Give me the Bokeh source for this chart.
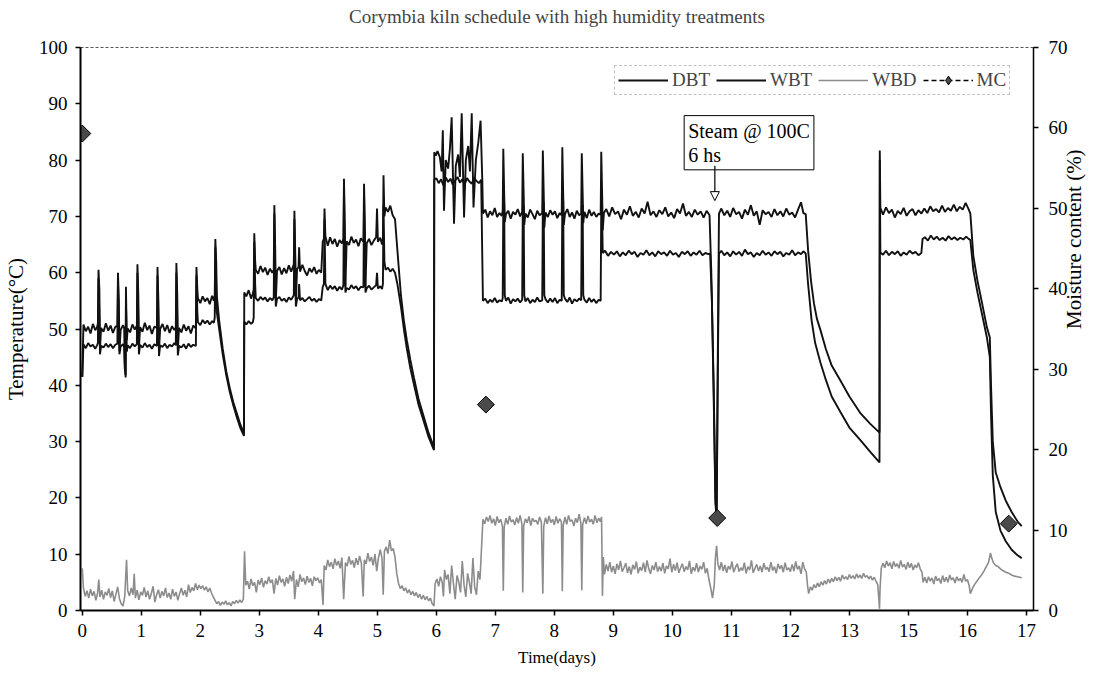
from math import pi

from bokeh.embed import file_html
from bokeh.models import (Arrow, ColumnDataSource, FixedTicker, Label, Legend,
                          LegendItem, LinearAxis, NormalHead, Range1d)
from bokeh.plotting import figure
from bokeh.resources import INLINE

TITLE = "Corymbia kiln schedule with high humidity treatments"
DAY_TICKS = list(range(17))
DAY_TICK_LABELS = ["0", "1", "2", "3", "4", "5", "6", "7", "8", "9", "10",
                   "11", "12", "13", "15", "16", "17"]
TEMP_TICKS = list(range(0, 101, 10))
MC_TICKS = list(range(0, 71, 10))

# Dry bulb temperature (day, degC)
DBT = [
    (0.00, 41.5), (0.02, 50.8), (0.06, 49.6), (0.10, 50.4), (0.14, 49.2), (0.18, 50.9), (0.22, 49.8), (0.25, 50.3),
    (0.265, 51.0), (0.275, 60.5), (0.29, 57.0), (0.30, 46.5), (0.32, 50.2),
    (0.36, 49.5), (0.40, 51.0), (0.44, 49.7), (0.48, 50.6), (0.52, 49.3), (0.56, 50.4),
    (0.595, 50.5), (0.605, 60.0), (0.62, 55.0), (0.63, 46.0), (0.65, 49.8),
    (0.69, 50.7), (0.71, 50.2), (0.72, 44.0), (0.735, 41.4), (0.74, 57.5), (0.755, 48.0), (0.77, 50.1),
    (0.81, 49.4), (0.85, 50.8), (0.89, 49.9),
    (0.925, 50.6), (0.935, 61.5), (0.95, 56.0), (0.96, 46.5), (0.98, 50.3),
    (1.02, 49.5), (1.06, 51.1), (1.10, 49.8), (1.14, 50.6), (1.18, 49.1), (1.22, 50.4),
    (1.265, 50.2), (1.275, 61.0), (1.29, 55.0), (1.30, 46.2), (1.32, 50.0),
    (1.36, 50.9), (1.40, 49.6), (1.44, 50.7), (1.48, 49.3), (1.52, 50.5), (1.56, 49.8),
    (1.585, 50.3), (1.595, 61.7), (1.61, 56.0), (1.62, 46.4), (1.64, 50.2),
    (1.68, 49.4), (1.72, 50.8), (1.76, 49.7), (1.80, 50.5), (1.84, 49.2), (1.88, 50.6),
    (1.925, 50.1), (1.935, 61.0), (1.95, 57.0), (1.96, 55.5),
    (2.00, 54.6), (2.04, 55.8), (2.08, 54.9), (2.12, 55.5), (2.16, 54.4), (2.20, 55.9), (2.23, 55.0),
    (2.245, 56.0), (2.255, 66.0), (2.27, 62.0), (2.28, 56.0),
    (2.32, 51.5), (2.38, 46.5), (2.44, 42.5), (2.50, 39.5), (2.56, 37.0), (2.62, 35.0), (2.68, 33.0), (2.74, 31.4),
    (2.745, 56.5), (2.78, 55.8), (2.82, 56.9), (2.86, 55.4), (2.89, 56.3),
    (2.905, 57.0), (2.915, 67.0), (2.93, 62.0), (2.94, 60.5),
    (2.98, 59.8), (3.02, 61.2), (3.06, 60.1), (3.10, 60.9), (3.14, 59.6), (3.18, 60.7), (3.22, 60.0),
    (3.245, 60.5), (3.255, 72.0), (3.27, 64.0), (3.28, 55.0), (3.30, 60.3),
    (3.34, 61.0), (3.38, 59.7), (3.42, 60.8), (3.46, 59.9), (3.50, 61.3), (3.54, 60.2),
    (3.585, 61.5), (3.595, 71.0), (3.61, 63.0), (3.62, 55.0), (3.64, 60.6), (3.665, 61.0), (3.675, 64.5), (3.69, 60.2),
    (3.73, 61.4), (3.77, 60.3), (3.81, 59.5), (3.85, 60.8), (3.89, 60.1), (3.93, 61.0), (3.97, 59.8), (4.01, 60.5), (4.05, 60.0),
    (4.075, 65.5), (4.095, 66.0), (4.105, 71.4), (4.12, 66.5),
    (4.16, 64.8), (4.20, 66.3), (4.24, 65.1), (4.28, 66.0), (4.32, 64.6), (4.36, 65.8), (4.40, 65.2),
    (4.425, 66.0), (4.435, 76.7), (4.45, 68.0), (4.46, 57.5), (4.48, 65.6),
    (4.52, 64.9), (4.56, 66.4), (4.60, 65.3), (4.64, 65.9), (4.68, 64.7), (4.72, 66.1),
    (4.765, 65.5), (4.775, 75.8), (4.79, 68.0), (4.80, 57.5), (4.82, 65.2),
    (4.86, 66.0), (4.90, 64.9), (4.94, 65.7), (4.98, 66.3), (4.995, 71.4), (5.01, 65.5), (5.05, 66.2), (5.08, 65.0),
    (5.095, 66.0), (5.105, 77.3), (5.12, 70.0), (5.14, 71.6),
    (5.18, 70.8), (5.22, 71.9), (5.26, 70.2), (5.30, 69.5),
    (5.34, 64.0), (5.40, 56.0), (5.45, 51.5), (5.50, 48.0), (5.56, 44.5), (5.62, 41.4), (5.70, 37.5), (5.79, 34.3), (5.87, 31.5), (5.96, 29.0),
    (5.965, 81.4), (5.99, 80.8), (6.02, 81.6),
    (6.06, 80.5), (6.09, 78.0), (6.11, 85.3), (6.13, 71.0), (6.16, 80.0), (6.20, 78.5), (6.23, 82.0), (6.26, 87.6),
    (6.30, 68.7), (6.33, 79.0), (6.37, 81.0), (6.40, 77.0), (6.43, 88.3), (6.47, 69.8), (6.50, 80.0), (6.54, 82.5),
    (6.57, 78.0), (6.60, 88.3), (6.63, 71.6), (6.67, 80.0), (6.71, 83.0), (6.75, 87.0),
    (6.78, 76.0), (6.79, 70.5),
    (6.83, 71.2), (6.87, 69.8), (6.91, 70.9), (6.95, 70.2), (6.99, 71.5), (7.03, 69.9), (7.07, 70.6), (7.11, 70.1),
    (7.125, 71.0), (7.135, 82.0), (7.15, 74.0), (7.16, 69.0), (7.18, 70.4),
    (7.22, 71.0), (7.26, 69.6), (7.30, 70.8), (7.34, 70.3), (7.38, 71.3), (7.42, 70.0),
    (7.455, 70.8), (7.465, 81.2), (7.48, 74.0), (7.49, 68.5), (7.51, 70.5),
    (7.55, 69.8), (7.59, 71.2), (7.63, 70.4), (7.67, 69.5), (7.71, 71.0), (7.75, 70.2),
    (7.795, 70.6), (7.805, 81.7), (7.82, 74.0), (7.83, 68.0), (7.85, 70.7),
    (7.89, 69.9), (7.93, 71.1), (7.97, 70.3), (8.01, 70.9), (8.05, 69.7), (8.09, 70.6),
    (8.125, 70.2), (8.135, 82.3), (8.15, 74.0), (8.16, 68.5), (8.18, 70.4),
    (8.22, 71.3), (8.26, 69.9), (8.30, 70.7), (8.34, 69.6), (8.38, 71.0), (8.42, 70.2),
    (8.455, 70.5), (8.465, 81.2), (8.48, 74.0), (8.49, 68.8), (8.51, 70.8),
    (8.55, 69.7), (8.59, 71.2), (8.63, 70.1), (8.67, 70.8), (8.71, 69.9), (8.75, 70.5),
    (8.785, 70.3), (8.795, 81.5), (8.81, 74.0), (8.82, 67.5), (8.84, 70.6),
    (8.88, 71.3), (8.93, 70.0), (8.98, 71.6), (9.03, 70.4), (9.08, 70.9), (9.13, 69.5), (9.18, 71.2), (9.23, 70.3),
    (9.28, 71.8), (9.33, 70.1), (9.38, 70.8), (9.43, 69.8), (9.48, 71.4), (9.53, 70.5), (9.58, 72.6), (9.63, 70.2),
    (9.68, 70.9), (9.73, 69.9), (9.78, 71.1), (9.83, 70.4), (9.88, 71.6), (9.93, 70.0), (9.98, 70.7), (10.03, 69.7),
    (10.08, 71.3), (10.13, 70.5), (10.18, 72.3), (10.23, 70.1), (10.28, 70.8), (10.33, 69.9), (10.38, 71.2), (10.43, 70.3),
    (10.48, 70.9), (10.53, 69.8), (10.58, 71.0), (10.63, 70.2),
    (10.66, 60.0), (10.70, 40.0), (10.73, 20.0), (10.75, 16.5), (10.77, 45.0), (10.79, 70.5),
    (10.83, 71.4), (10.88, 70.2), (10.93, 71.0), (10.98, 69.9), (11.03, 71.5), (11.08, 70.4), (11.13, 70.8), (11.18, 69.6),
    (11.23, 71.2), (11.28, 70.3), (11.33, 72.0), (11.38, 70.1), (11.43, 70.9), (11.48, 68.5), (11.53, 71.1), (11.58, 70.4),
    (11.63, 70.8), (11.68, 69.9), (11.73, 71.3), (11.78, 70.2), (11.83, 70.9), (11.88, 70.0), (11.93, 71.4), (11.98, 70.3),
    (12.03, 70.7), (12.08, 69.8), (12.13, 71.2), (12.18, 72.5), (12.22, 70.6), (12.26, 70.4),
    (12.30, 64.0), (12.35, 58.5), (12.40, 54.5), (12.45, 51.8), (12.51, 49.8), (12.60, 46.5), (12.70, 43.5),
    (12.85, 40.8), (13.00, 38.0), (13.19, 35.0), (13.35, 33.2), (13.51, 31.6),
    (13.515, 81.7), (13.525, 71.5),
    (13.57, 70.3), (13.62, 71.6), (13.67, 70.6), (13.72, 71.2), (13.77, 69.8), (13.82, 71.0), (13.87, 70.4), (13.92, 71.5),
    (13.97, 70.1), (14.02, 70.9), (14.07, 71.3), (14.12, 70.2), (14.17, 71.1), (14.22, 70.5), (14.27, 71.4), (14.32, 70.6),
    (14.37, 71.8), (14.42, 70.9), (14.47, 71.3), (14.52, 70.7), (14.57, 71.9), (14.62, 70.8), (14.67, 71.5), (14.72, 71.0),
    (14.77, 72.1), (14.82, 70.9), (14.87, 71.7), (14.92, 71.2), (14.97, 72.4), (15.02, 71.3), (15.05, 70.5),
    (15.10, 63.0), (15.17, 58.6), (15.25, 54.5), (15.33, 50.3), (15.38, 48.5), (15.40, 40.0), (15.43, 30.0),
    (15.48, 24.5), (15.56, 21.9), (15.65, 19.5), (15.75, 17.5), (15.85, 15.8), (15.92, 15.0),
]

# Wet bulb temperature (day, degC)
WBT = [
    (0.00, 41.5), (0.02, 47.3), (0.06, 46.6), (0.10, 47.5), (0.14, 46.9), (0.18, 47.2), (0.22, 46.5), (0.25, 47.1),
    (0.265, 47.5), (0.275, 59.0), (0.29, 52.0), (0.30, 45.5), (0.32, 47.0),
    (0.36, 46.7), (0.40, 47.4), (0.44, 46.8), (0.48, 47.3), (0.52, 46.6), (0.56, 47.2),
    (0.595, 47.4), (0.605, 58.5), (0.62, 51.0), (0.63, 45.5), (0.65, 46.9),
    (0.69, 47.3), (0.71, 46.8), (0.72, 43.0), (0.735, 41.8), (0.74, 55.0), (0.755, 46.0), (0.77, 47.1),
    (0.81, 46.6), (0.85, 47.4), (0.89, 46.9),
    (0.925, 47.3), (0.935, 60.0), (0.95, 52.0), (0.96, 45.5), (0.98, 47.2),
    (1.02, 46.7), (1.06, 47.5), (1.10, 46.8), (1.14, 47.2), (1.18, 46.5), (1.22, 47.3),
    (1.265, 47.0), (1.275, 59.5), (1.29, 52.0), (1.30, 45.2), (1.32, 47.1),
    (1.36, 46.8), (1.40, 47.4), (1.44, 46.6), (1.48, 47.2), (1.52, 46.9), (1.56, 47.5),
    (1.585, 47.1), (1.595, 60.0), (1.61, 52.0), (1.62, 45.3), (1.64, 47.0),
    (1.68, 46.7), (1.72, 47.3), (1.76, 46.5), (1.80, 47.4), (1.84, 46.8), (1.88, 47.2),
    (1.925, 47.0), (1.935, 59.5), (1.95, 53.0), (1.96, 51.2),
    (2.00, 50.7), (2.04, 51.6), (2.08, 51.0), (2.12, 51.5), (2.16, 50.8), (2.20, 51.4), (2.23, 51.1),
    (2.245, 52.0), (2.255, 64.5), (2.27, 58.0), (2.28, 53.0),
    (2.32, 50.0), (2.38, 45.5), (2.44, 41.8), (2.50, 38.8), (2.56, 36.4), (2.62, 34.3), (2.68, 32.4), (2.74, 31.0),
    (2.745, 51.3), (2.78, 50.8), (2.82, 51.4), (2.86, 50.9), (2.89, 51.2),
    (2.905, 52.0), (2.915, 65.5), (2.93, 58.0), (2.94, 55.5),
    (2.98, 55.0), (3.02, 55.7), (3.06, 55.2), (3.10, 55.6), (3.14, 54.9), (3.18, 55.5), (3.22, 55.1),
    (3.245, 55.6), (3.255, 70.5), (3.27, 60.0), (3.28, 54.0), (3.30, 55.3),
    (3.34, 55.7), (3.38, 55.0), (3.42, 55.4), (3.46, 54.8), (3.50, 55.6), (3.54, 55.2),
    (3.585, 56.0), (3.595, 69.5), (3.61, 60.0), (3.62, 54.0), (3.64, 55.3), (3.665, 55.6), (3.675, 58.0), (3.69, 55.1),
    (3.73, 55.5), (3.77, 54.9), (3.81, 55.3), (3.85, 55.7), (3.89, 55.0), (3.93, 55.4), (3.97, 54.8), (4.01, 55.3), (4.05, 55.1),
    (4.075, 57.5), (4.095, 58.0), (4.105, 69.5), (4.12, 58.0),
    (4.16, 56.9), (4.20, 57.7), (4.24, 57.1), (4.28, 57.6), (4.32, 56.8), (4.36, 57.5), (4.40, 57.0),
    (4.425, 57.8), (4.435, 75.0), (4.45, 62.0), (4.46, 56.5), (4.48, 57.3),
    (4.52, 57.0), (4.56, 57.8), (4.60, 57.2), (4.64, 57.6), (4.68, 56.9), (4.72, 57.5),
    (4.765, 57.4), (4.775, 74.0), (4.79, 62.0), (4.80, 56.5), (4.82, 57.2),
    (4.86, 57.7), (4.90, 57.0), (4.94, 57.4), (4.98, 57.8), (4.995, 60.0), (5.01, 57.2), (5.05, 57.6), (5.08, 57.1),
    (5.095, 58.0), (5.105, 72.0), (5.12, 62.0), (5.14, 60.5),
    (5.18, 60.9), (5.22, 60.2), (5.26, 60.7), (5.30, 60.0),
    (5.34, 58.0), (5.40, 54.0), (5.45, 50.0), (5.50, 46.5), (5.56, 43.0), (5.62, 40.2), (5.70, 36.5), (5.79, 33.5), (5.87, 30.8), (5.96, 28.5),
    (5.965, 76.5),
    (6.00, 76.8), (6.04, 75.9), (6.08, 76.6), (6.12, 75.5), (6.16, 76.9), (6.20, 76.1), (6.24, 76.7), (6.28, 75.6),
    (6.32, 76.4), (6.36, 77.0), (6.40, 76.0), (6.44, 76.6), (6.48, 75.7), (6.52, 76.8), (6.56, 76.2), (6.60, 75.8),
    (6.64, 76.9), (6.68, 76.3), (6.72, 75.9), (6.76, 76.5),
    (6.78, 62.0), (6.79, 55.0),
    (6.83, 55.4), (6.87, 54.6), (6.91, 55.2), (6.95, 54.8), (6.99, 55.5), (7.03, 54.7), (7.07, 55.1), (7.11, 54.9),
    (7.125, 55.5), (7.135, 72.0), (7.15, 72.5), (7.16, 56.0), (7.18, 55.0),
    (7.22, 55.6), (7.26, 54.5), (7.30, 55.3), (7.34, 54.9), (7.38, 55.4), (7.42, 54.7),
    (7.455, 55.2), (7.465, 71.5), (7.48, 72.0), (7.49, 56.0), (7.51, 54.9),
    (7.55, 55.5), (7.59, 54.6), (7.63, 55.2), (7.67, 54.8), (7.71, 55.6), (7.75, 54.9),
    (7.795, 55.1), (7.805, 72.0), (7.82, 72.5), (7.83, 56.0), (7.85, 55.3),
    (7.89, 54.7), (7.93, 55.4), (7.97, 54.8), (8.01, 55.5), (8.05, 54.6), (8.09, 55.2),
    (8.125, 55.0), (8.135, 72.5), (8.15, 72.8), (8.16, 56.0), (8.18, 55.4),
    (8.22, 54.8), (8.26, 55.6), (8.30, 54.5), (8.34, 55.3), (8.38, 54.9), (8.42, 55.4),
    (8.455, 55.1), (8.465, 71.8), (8.48, 72.0), (8.49, 56.0), (8.51, 55.2),
    (8.55, 54.7), (8.59, 55.5), (8.63, 54.8), (8.67, 55.3), (8.71, 54.6), (8.75, 55.2),
    (8.785, 55.0), (8.795, 72.0), (8.81, 70.0), (8.82, 63.5),
    (8.86, 63.9), (8.91, 63.0), (8.96, 63.7), (9.01, 63.2), (9.06, 63.8), (9.11, 62.9), (9.16, 63.6), (9.21, 63.1),
    (9.26, 63.9), (9.31, 63.3), (9.36, 63.7), (9.41, 62.8), (9.46, 63.5), (9.51, 63.2), (9.56, 64.0), (9.61, 63.1),
    (9.66, 63.6), (9.71, 62.9), (9.76, 63.8), (9.81, 63.3), (9.86, 63.6), (9.91, 63.0), (9.96, 63.9), (10.01, 63.2),
    (10.06, 63.5), (10.11, 62.8), (10.16, 63.7), (10.21, 63.3), (10.26, 63.8), (10.31, 63.0), (10.36, 63.6), (10.41, 63.2),
    (10.46, 63.9), (10.51, 63.1), (10.56, 63.5), (10.61, 63.3), (10.64, 63.4),
    (10.67, 55.0), (10.70, 38.0), (10.73, 19.0), (10.75, 16.5), (10.77, 42.0), (10.79, 63.4),
    (10.83, 63.9), (10.88, 63.1), (10.93, 63.6), (10.98, 62.9), (11.03, 63.8), (11.08, 63.2), (11.13, 63.7), (11.18, 63.0),
    (11.23, 64.1), (11.28, 63.3), (11.33, 63.6), (11.38, 62.8), (11.43, 63.5), (11.48, 63.1), (11.53, 63.9), (11.58, 63.2),
    (11.63, 63.6), (11.68, 63.0), (11.73, 63.8), (11.78, 63.3), (11.83, 63.7), (11.88, 62.9), (11.93, 63.5), (11.98, 63.2),
    (12.03, 64.0), (12.08, 63.1), (12.13, 63.6), (12.18, 63.3), (12.22, 63.8), (12.26, 63.4),
    (12.30, 58.0), (12.36, 51.5), (12.42, 47.5), (12.51, 44.0), (12.60, 41.0), (12.70, 38.0), (12.85, 35.2),
    (13.00, 32.5), (13.19, 30.2), (13.35, 28.2), (13.51, 26.3),
    (13.515, 80.0), (13.525, 63.6),
    (13.57, 63.2), (13.62, 63.9), (13.67, 63.1), (13.72, 63.7), (13.77, 63.3), (13.82, 63.8), (13.87, 63.0), (13.92, 63.6),
    (13.97, 63.2), (14.02, 63.9), (14.07, 63.4), (14.12, 63.7), (14.17, 63.1), (14.22, 63.5),
    (14.24, 66.0), (14.28, 66.3), (14.33, 65.7), (14.38, 66.6), (14.43, 65.9), (14.48, 66.4), (14.53, 65.8), (14.58, 66.2),
    (14.63, 65.7), (14.68, 66.5), (14.73, 65.9), (14.78, 66.3), (14.83, 65.8), (14.88, 66.2), (14.93, 65.9), (14.98, 66.4),
    (15.02, 66.0), (15.05, 65.8),
    (15.10, 60.5), (15.17, 56.5), (15.25, 52.5), (15.33, 48.5), (15.38, 45.0), (15.40, 35.0), (15.43, 24.0),
    (15.48, 17.5), (15.56, 14.2), (15.65, 12.3), (15.75, 10.8), (15.85, 9.8), (15.92, 9.3),
]

# Wet bulb depression (day, degC)
WBD = [
    (0.00, 7.5), (0.02, 4.0), (0.05, 2.5), (0.08, 3.5), (0.11, 2.2), (0.14, 3.8), (0.17, 2.6), (0.20, 3.4), (0.23, 1.8),
    (0.26, 3.1), (0.28, 5.5), (0.30, 2.4), (0.33, 3.6), (0.36, 2.0), (0.39, 3.3), (0.42, 2.7), (0.45, 3.9), (0.48, 2.3),
    (0.51, 3.5), (0.54, 1.6), (0.57, 2.9), (0.60, 4.2), (0.63, 2.1), (0.66, 1.2), (0.69, 0.8), (0.72, 2.5), (0.75, 9.0),
    (0.77, 3.5), (0.80, 2.6), (0.83, 4.0), (0.86, 2.8), (0.88, 6.5), (0.90, 2.2), (0.93, 3.6), (0.96, 1.9), (0.99, 3.3),
    (1.02, 2.7), (1.05, 4.1), (1.08, 2.4), (1.11, 3.5), (1.14, 2.0), (1.17, 3.0), (1.20, 4.3), (1.23, 1.5), (1.26, 2.8),
    (1.29, 3.7), (1.32, 2.2), (1.35, 3.4), (1.38, 2.6), (1.41, 4.0), (1.44, 2.3), (1.47, 3.1), (1.50, 2.0), (1.53, 3.8),
    (1.56, 2.5), (1.59, 3.3), (1.62, 1.8), (1.65, 3.0), (1.68, 4.0), (1.71, 2.7), (1.74, 3.6), (1.77, 2.4), (1.80, 4.6),
    (1.83, 3.2), (1.86, 4.1), (1.89, 3.5), (1.92, 4.8), (1.95, 3.7), (1.98, 4.5), (2.01, 3.9), (2.04, 4.4), (2.07, 3.6),
    (2.10, 4.2), (2.13, 3.3), (2.16, 4.0), (2.19, 3.1), (2.22, 2.4), (2.25, 1.8), (2.28, 1.2), (2.31, 1.6), (2.34, 0.9),
    (2.37, 1.5), (2.40, 1.1), (2.43, 1.7), (2.46, 1.0), (2.49, 1.4), (2.52, 0.8), (2.55, 1.6), (2.58, 1.2), (2.61, 1.8),
    (2.64, 1.3), (2.67, 1.9), (2.70, 1.4), (2.73, 2.0), (2.75, 10.5), (2.77, 4.5), (2.80, 5.2), (2.83, 3.8), (2.86, 5.6),
    (2.89, 4.4), (2.92, 5.0), (2.95, 3.2), (2.98, 5.4), (3.01, 4.6), (3.04, 5.8), (3.07, 4.1), (3.10, 5.3), (3.13, 4.7),
    (3.16, 6.0), (3.19, 4.9), (3.22, 5.5), (3.25, 3.0), (3.28, 5.7), (3.31, 4.5), (3.34, 6.2), (3.37, 5.0), (3.40, 5.6),
    (3.43, 4.3), (3.46, 5.9), (3.49, 4.8), (3.52, 6.3), (3.55, 5.2), (3.58, 7.0), (3.60, 2.0), (3.63, 5.5), (3.66, 4.2),
    (3.69, 6.4), (3.72, 5.1), (3.75, 5.8), (3.78, 4.6), (3.81, 6.1), (3.84, 5.0), (3.87, 5.7), (3.90, 4.4), (3.93, 6.0),
    (3.96, 5.3), (3.99, 5.8), (4.02, 4.9), (4.05, 5.5), (4.08, 1.0), (4.10, 8.0), (4.13, 7.2), (4.16, 9.0), (4.19, 7.8),
    (4.22, 8.6), (4.25, 7.4), (4.28, 9.2), (4.31, 8.0), (4.34, 8.8), (4.37, 7.5), (4.40, 9.4), (4.43, 2.0), (4.46, 8.5),
    (4.49, 7.9), (4.52, 9.6), (4.55, 8.2), (4.58, 8.9), (4.61, 7.6), (4.64, 9.3), (4.67, 8.1), (4.70, 9.7), (4.73, 8.4),
    (4.76, 2.5), (4.78, 9.0), (4.81, 8.3), (4.84, 10.2), (4.87, 8.7), (4.90, 9.5), (4.93, 8.0), (4.96, 10.0), (4.99, 7.0),
    (5.02, 9.4), (5.05, 10.8), (5.08, 9.2), (5.10, 2.8), (5.12, 10.5), (5.15, 11.3), (5.18, 10.1), (5.21, 12.5),
    (5.24, 10.6), (5.27, 11.0), (5.30, 9.5), (5.33, 6.5), (5.36, 4.8), (5.39, 3.9), (5.42, 4.4), (5.45, 3.5), (5.48, 4.0),
    (5.51, 3.1), (5.54, 3.7), (5.57, 2.8), (5.60, 3.4), (5.63, 2.6), (5.66, 3.2), (5.69, 2.3), (5.72, 2.9), (5.75, 2.0),
    (5.78, 2.7), (5.81, 1.9), (5.84, 2.5), (5.87, 1.7), (5.90, 2.2), (5.93, 1.2), (5.96, 0.8),
    (5.98, 4.8), (6.01, 5.6), (6.04, 4.3), (6.07, 6.0), (6.10, 5.0), (6.12, 2.5), (6.14, 7.2), (6.17, 5.5), (6.20, 6.4),
    (6.23, 3.0), (6.26, 8.0), (6.29, 4.8), (6.32, 2.0), (6.35, 6.2), (6.38, 5.1), (6.41, 3.2), (6.44, 8.8), (6.47, 4.5),
    (6.50, 2.4), (6.53, 6.6), (6.56, 5.0), (6.59, 3.0), (6.62, 9.3), (6.65, 4.2), (6.68, 2.8), (6.71, 7.0), (6.74, 5.5),
    (6.77, 12.0), (6.79, 16.2),
    (6.82, 15.4), (6.85, 16.6), (6.88, 15.8), (6.91, 16.9), (6.94, 15.5), (6.97, 16.3), (7.00, 15.1), (7.03, 16.7),
    (7.06, 15.6), (7.09, 16.2), (7.12, 15.0), (7.135, 3.5), (7.15, 14.8), (7.18, 16.4), (7.21, 15.3), (7.24, 16.8),
    (7.27, 15.7), (7.30, 16.1), (7.33, 15.2), (7.36, 16.5), (7.39, 15.5), (7.42, 16.9), (7.45, 15.4), (7.465, 3.2),
    (7.48, 15.0), (7.51, 16.3), (7.54, 15.6), (7.57, 16.7), (7.60, 15.1), (7.63, 16.4), (7.66, 15.8), (7.69, 16.0),
    (7.72, 15.3), (7.75, 16.6), (7.78, 15.7), (7.805, 3.0), (7.82, 14.9), (7.85, 16.5), (7.88, 15.4), (7.91, 16.8),
    (7.94, 15.6), (7.97, 16.2), (8.00, 15.2), (8.03, 16.7), (8.06, 15.5), (8.09, 16.3), (8.12, 15.7), (8.135, 3.4),
    (8.15, 15.1), (8.18, 16.6), (8.21, 15.3), (8.24, 16.9), (8.27, 15.8), (8.30, 16.1), (8.33, 15.0), (8.36, 16.4),
    (8.39, 15.6), (8.42, 17.1), (8.45, 15.5), (8.465, 3.6), (8.48, 15.2), (8.51, 16.5), (8.54, 15.4), (8.57, 16.8),
    (8.60, 15.7), (8.63, 16.2), (8.66, 15.3), (8.69, 16.9), (8.72, 15.6), (8.75, 16.4), (8.78, 15.8), (8.80, 16.6),
    (8.815, 2.6),
    (8.83, 9.5), (8.85, 6.4), (8.88, 8.2), (8.91, 7.0), (8.94, 8.6), (8.97, 6.8), (9.00, 7.9), (9.03, 6.5), (9.06, 8.3),
    (9.09, 7.2), (9.12, 8.8), (9.15, 6.9), (9.18, 7.6), (9.21, 8.4), (9.24, 6.7), (9.27, 7.8), (9.30, 6.4), (9.33, 8.1),
    (9.36, 7.3), (9.39, 8.7), (9.42, 6.6), (9.45, 7.7), (9.48, 7.1), (9.51, 8.5), (9.54, 6.8), (9.57, 8.9), (9.60, 7.4),
    (9.63, 6.5), (9.66, 8.0), (9.69, 7.2), (9.72, 8.6), (9.75, 6.9), (9.78, 7.8), (9.81, 7.0), (9.84, 8.4), (9.87, 6.6),
    (9.90, 7.9), (9.93, 7.4), (9.96, 9.2), (9.99, 6.8), (10.02, 8.2), (10.05, 7.1), (10.08, 8.5), (10.11, 6.7),
    (10.14, 7.6), (10.17, 8.3), (10.20, 6.9), (10.23, 7.8), (10.26, 7.2), (10.29, 8.8), (10.32, 6.5), (10.35, 7.7),
    (10.38, 7.0), (10.41, 8.4), (10.44, 6.8), (10.47, 7.9), (10.50, 7.3), (10.53, 8.6), (10.56, 6.6), (10.59, 7.5),
    (10.62, 5.5), (10.65, 4.0), (10.68, 2.2), (10.71, 4.5), (10.73, 9.5), (10.75, 11.5), (10.77, 8.4), (10.80, 7.2),
    (10.83, 8.6), (10.86, 7.0), (10.89, 8.1), (10.92, 6.7), (10.95, 7.9), (10.98, 7.3), (11.01, 8.7), (11.04, 6.8),
    (11.07, 7.7), (11.10, 8.3), (11.13, 6.9), (11.16, 7.6), (11.19, 7.1), (11.22, 8.5), (11.25, 6.6), (11.28, 7.8),
    (11.31, 7.2), (11.34, 8.9), (11.37, 6.7), (11.40, 7.5), (11.43, 8.2), (11.46, 7.0), (11.49, 7.9), (11.52, 6.8),
    (11.55, 8.4), (11.58, 7.3), (11.61, 7.7), (11.64, 6.9), (11.67, 8.6), (11.70, 7.1), (11.73, 7.8), (11.76, 6.6),
    (11.79, 8.3), (11.82, 7.4), (11.85, 8.0), (11.88, 6.8), (11.91, 8.5), (11.94, 7.2), (11.97, 7.6), (12.00, 6.9),
    (12.03, 8.2), (12.06, 7.0), (12.09, 8.7), (12.12, 7.3), (12.15, 7.9), (12.18, 6.5), (12.21, 8.6), (12.24, 7.4),
    (12.27, 6.8),
    (12.29, 4.5), (12.31, 3.0), (12.34, 4.2), (12.37, 3.6), (12.40, 4.6), (12.43, 4.0), (12.46, 4.9), (12.49, 4.2),
    (12.52, 5.1), (12.55, 4.5), (12.58, 5.3), (12.61, 4.7), (12.64, 5.6), (12.67, 4.9), (12.70, 5.7), (12.73, 5.1),
    (12.76, 6.0), (12.79, 5.3), (12.82, 5.9), (12.85, 5.2), (12.88, 6.3), (12.91, 5.6), (12.94, 6.0), (12.97, 5.5),
    (13.00, 6.4), (13.03, 5.7), (13.06, 6.2), (13.09, 5.6), (13.12, 6.5), (13.15, 5.8), (13.18, 6.3), (13.21, 5.7),
    (13.24, 6.6), (13.27, 5.9), (13.30, 6.2), (13.33, 5.6), (13.36, 6.1), (13.39, 5.4), (13.42, 5.9), (13.45, 5.2),
    (13.48, 4.6), (13.50, 2.0), (13.51, 0.3), (13.52, 4.0),
    (13.54, 7.5), (13.57, 8.4), (13.60, 7.6), (13.63, 8.8), (13.66, 7.9), (13.69, 8.5), (13.72, 7.4), (13.75, 8.7),
    (13.78, 7.8), (13.81, 8.3), (13.84, 7.5), (13.87, 8.9), (13.90, 7.7), (13.93, 8.2), (13.96, 7.3), (13.99, 8.6),
    (14.02, 7.6), (14.05, 8.4), (14.08, 7.2), (14.11, 8.1), (14.14, 7.6), (14.17, 8.5), (14.20, 7.4), (14.23, 6.8),
    (14.25, 5.0), (14.28, 5.9), (14.31, 4.9), (14.34, 6.0), (14.37, 5.2), (14.40, 5.8), (14.43, 4.7), (14.46, 6.1),
    (14.49, 5.3), (14.52, 5.7), (14.55, 4.8), (14.58, 6.2), (14.61, 5.1), (14.64, 5.9), (14.67, 5.0), (14.70, 6.3),
    (14.73, 5.4), (14.76, 5.8), (14.79, 4.9), (14.82, 6.0), (14.85, 5.3), (14.88, 5.7), (14.91, 5.0), (14.94, 6.4),
    (14.97, 5.2), (15.00, 5.5), (15.03, 4.4), (15.05, 3.0),
    (15.08, 3.8), (15.12, 4.6), (15.16, 5.2), (15.20, 5.8), (15.24, 6.3), (15.28, 7.0), (15.32, 7.8), (15.36, 8.6),
    (15.39, 10.2), (15.41, 9.4), (15.44, 8.5), (15.48, 8.0), (15.52, 7.8), (15.56, 7.4), (15.60, 7.1), (15.65, 6.8),
    (15.70, 6.6), (15.75, 6.3), (15.80, 6.1), (15.85, 6.0), (15.92, 5.8),
]

# Moisture content samples (day, %)
MC_DAY = [0.0, 6.84, 10.76, 15.70]
MC_PCT = [59.3, 25.6, 11.5, 10.8]

SERIF = "Liberation Serif"
NAN = float("nan")


def columns(points):
    return ColumnDataSource(data=dict(x=[d for d, _ in points], y=[t for _, t in points]))


p = figure(
    width=1100, height=677,
    x_range=Range1d(-0.03, 16.12), y_range=Range1d(0, 100),
    output_backend="svg", toolbar_location=None,
    min_border_left=79, min_border_right=67, min_border_top=47, min_border_bottom=67,
    # the trailing empty line lifts the title towards the top edge of the page
    title=TITLE + "\n",
)
p.extra_y_ranges = {"mc": Range1d(0, 70)}
p.background_fill_color = "white"
p.border_fill_color = "white"
p.xgrid.visible = False
p.ygrid.visible = False
p.outline_line_color = "#555555"
p.outline_line_dash = "3 2"
p.outline_line_width = 1

p.title.align = "center"
p.title.text_font = SERIF
p.title.text_font_size = "19px"
p.title.text_font_style = "normal"
p.title.standoff = 0
p.title.offset = -10

# axes
xa = p.xaxis[0]
xa.ticker = FixedTicker(ticks=DAY_TICKS)
xa.major_label_overrides = {t: lab for t, lab in zip(DAY_TICKS, DAY_TICK_LABELS)}
xa.axis_label = "Time(days)"

ya = p.yaxis[0]
ya.ticker = FixedTicker(ticks=TEMP_TICKS)
ya.axis_label = "Temperature(\u00b0C)"

ra = LinearAxis(y_range_name="mc", ticker=FixedTicker(ticks=MC_TICKS),
                axis_label="Moisture content (%)")
p.add_layout(ra, "right")

for ax in (xa, ya, ra):
    ax.axis_line_color = "black"
    ax.axis_line_width = 2
    ax.major_tick_line_color = "black"
    ax.major_tick_line_width = 1.5
    ax.major_tick_in = 0
    ax.major_tick_out = 5
    ax.minor_tick_line_color = None
    ax.major_label_text_font = SERIF
    ax.major_label_text_font_size = "19px"
    ax.major_label_text_color = "black"
    ax.axis_label_text_font = SERIF
    ax.axis_label_text_font_size = "17px"
    ax.axis_label_text_font_style = "normal"
    ax.axis_label_text_color = "black"

ya.axis_label_text_font_size = "21px"
ra.axis_label_text_font_size = "21px"
ra.axis_label_orientation = pi / 2
xa.major_label_standoff = 8
xa.axis_label_standoff = 8
ya.major_label_standoff = 8
ya.axis_label_standoff = 8
ra.major_label_standoff = 10
ra.axis_label_standoff = 3
ra.axis_line_width = 1.5

# series
r_wbd = p.line("x", "y", source=columns(WBD), line_color="#8c8c8c", line_width=1.6)
r_wbt = p.line("x", "y", source=columns(WBT), line_color="#111111", line_width=1.9)
r_dbt = p.line("x", "y", source=columns(DBT), line_color="#111111", line_width=1.9)

mc_src = ColumnDataSource(data=dict(x=MC_DAY, y=MC_PCT))
r_mc = p.scatter("x", "y", source=mc_src, y_range_name="mc", marker="square", angle=pi / 4,
                 size=12, fill_color="#4a4a4a", line_color="black", line_width=1)

# legend-only glyphs for the MC entry: dashed connector plus a diamond
mc_key_src = ColumnDataSource(data=dict(x=[NAN], y=[NAN]))
r_mc_key_line = p.line("x", "y", source=mc_key_src, y_range_name="mc", line_color="black",
                       line_width=1.5, line_dash="5 3")
r_mc_key_mark = p.scatter("x", "y", source=mc_key_src, y_range_name="mc", marker="diamond",
                          size=18, fill_color="#4a4a4a", line_color="black", line_width=1)

legend = Legend(
    items=[
        LegendItem(label="DBT", renderers=[r_dbt]),
        LegendItem(label="WBT", renderers=[r_wbt]),
        LegendItem(label="WBD", renderers=[r_wbd]),
        LegendItem(label="MC", renderers=[r_mc_key_line, r_mc_key_mark]),
    ],
    orientation="horizontal",
    location=(534, 515),
    label_text_font=SERIF,
    label_text_font_size="19px",
    label_standoff=4,
    glyph_width=50,
    glyph_height=22,
    spacing=6,
    padding=3,
    margin=0,
    border_line_color="#888888",
    border_line_dash="4 3",
    border_line_width=1,
    background_fill_color="white",
    background_fill_alpha=1,
)
p.add_layout(legend)

# steam treatment note
note = Label(x=10.2, y=87.9, text="Steam @ 100C\n6 hs", text_align="left", text_baseline="top",
             text_font=SERIF, text_font_size="20px", text_color="black", text_line_height=1.1,
             border_line_color="black", border_line_width=1,
             background_fill_color="white", padding=4)
p.add_layout(note)
p.add_layout(Arrow(end=NormalHead(size=9, fill_color="white", line_color="black", line_width=1),
                   x_start=10.72, y_start=79.0, x_end=10.72, y_end=72.8,
                   line_color="black", line_width=1.2))

open("out.html", "w").write(file_html(p, INLINE))
